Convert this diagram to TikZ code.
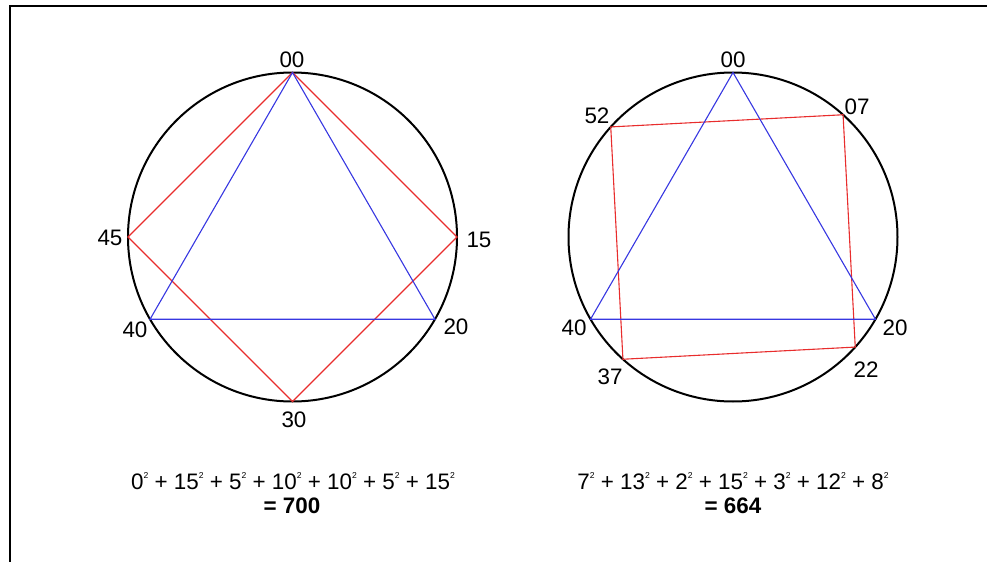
\documentclass[tikz,border=0pt]{standalone}
\usepackage{fontspec}
\setmainfont{Liberation Sans}
\usetikzlibrary{calc}
\definecolor{sqred}{RGB}{232,45,45}
\definecolor{triblue}{RGB}{55,55,225}
\newcommand{\sqd}[1]{#1\raisebox{5.4pt}{\fontsize{4.3}{5}\selectfont 2}}
\begin{document}
\begin{tikzpicture}[x=0.5pt, y=-0.5pt, line width=0.5pt,
    lbl/.style={font=\fontsize{11.2}{13}\selectfont, inner sep=0pt},
    rim/.style={line width=1pt},
    tri/.style={triblue, line width=0.55pt},
    sq/.style={sqred, line width=0.55pt}]
  \useasboundingbox (0,0) rectangle (987,562);
  \draw[line width=1.3pt] (10,562) -- (10,6) -- (987,6);
  % left clock face
  \coordinate (L) at (292.5,237);
  \draw[rim] (L) circle[radius=164.5];
  \coordinate (L00) at ($(L)+(-90:164.5)$); \coordinate (L15) at ($(L)+(0:164.5)$);
  \coordinate (L20) at ($(L)+(30:164.5)$); \coordinate (L30) at ($(L)+(90:164.5)$);
  \coordinate (L40) at ($(L)+(150:164.5)$); \coordinate (L45) at ($(L)+(180:164.5)$);
  \draw[sq] (L00) -- (L15) -- (L30) -- (L45) -- cycle;
  \draw[tri] (L00) -- (L20) -- (L40) -- cycle;
  \node[lbl] at (292,60) {00};
  \node[lbl] at (479,240) {15};
  \node[lbl] at (456,327) {20};
  \node[lbl] at (294,420) {30};
  \node[lbl] at (135,330) {40};
  \node[lbl] at (110,238) {45};
  % right clock face
  \coordinate (R) at (733,237);
  \draw[rim] (R) circle[radius=164.5];
  \coordinate (R00) at ($(R)+(-90:164.5)$); \coordinate (R07) at ($(R)+(-48:164.5)$);
  \coordinate (R20) at ($(R)+(30:164.5)$); \coordinate (R22) at ($(R)+(42:164.5)$);
  \coordinate (R37) at ($(R)+(132:164.5)$); \coordinate (R40) at ($(R)+(150:164.5)$);
  \coordinate (R52) at ($(R)+(222:164.5)$);
  \draw[sq] (R07) -- (R22) -- (R37) -- (R52) -- cycle;
  \draw[tri] (R00) -- (R20) -- (R40) -- cycle;
  \node[lbl] at (733,60) {00};
  \node[lbl] at (857,107) {07};
  \node[lbl] at (895,328) {20};
  \node[lbl] at (866,370) {22};
  \node[lbl] at (610,377) {37};
  \node[lbl] at (574,328) {40};
  \node[lbl] at (597,116) {52};
  % sums
  \node[lbl] (lsum) at (293,481) {\sqd{0} + \sqd{15} + \sqd{5} + \sqd{10} + \sqd{10} + \sqd{5} + \sqd{15}};
  \node[lbl, font=\fontsize{11.2}{13}\selectfont\bfseries] (ltot) at (292,506) {= 700};
  \node[lbl] (rsum) at (733,481) {\sqd{7} + \sqd{13} + \sqd{2} + \sqd{15} + \sqd{3} + \sqd{12} + \sqd{8}};
  \node[lbl, font=\fontsize{11.2}{13}\selectfont\bfseries] (rtot) at (733,506) {= 664};
\end{tikzpicture}
\end{document}
